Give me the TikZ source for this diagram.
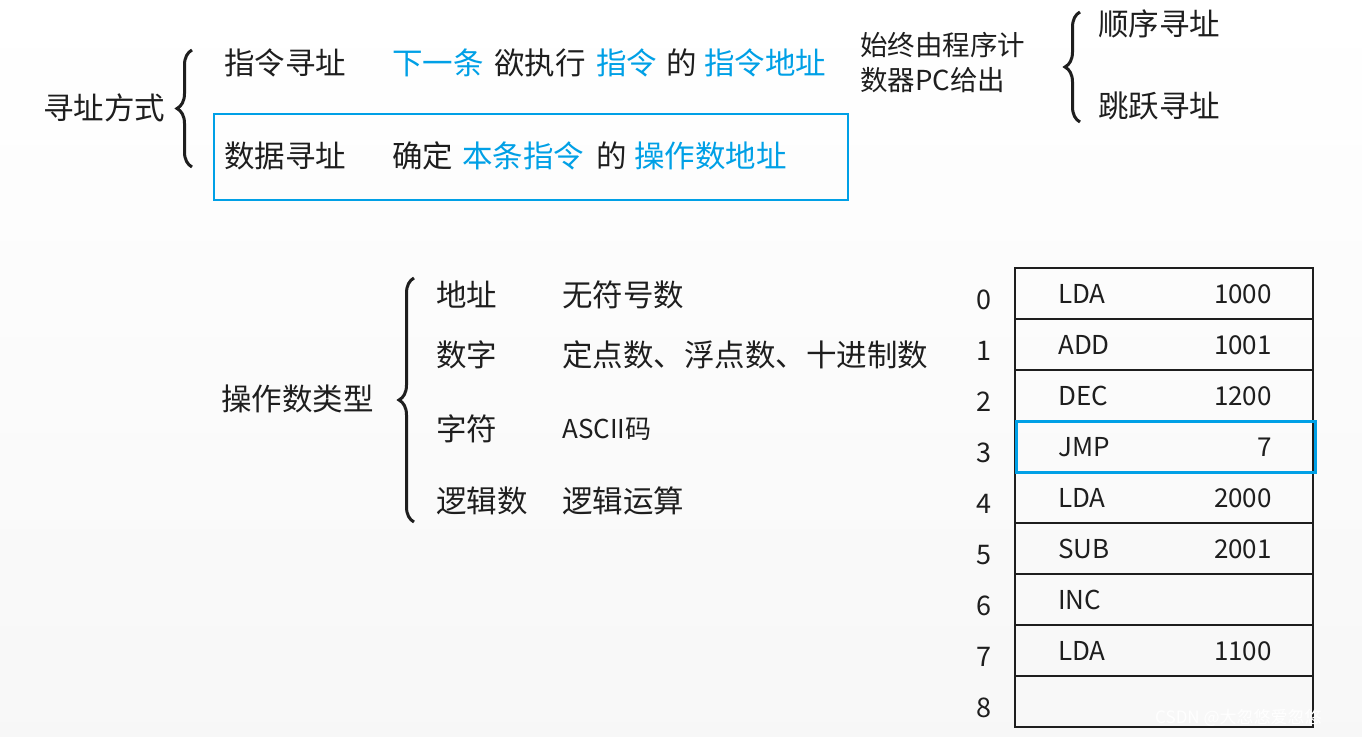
\documentclass[tikz,border=0pt]{standalone}
\usepackage{fontspec}
\setmainfont{Noto Sans CJK SC}
\usetikzlibrary{decorations.pathreplacing}
\definecolor{hl}{RGB}{0,160,230}
\definecolor{tx}{RGB}{30,30,30}
\tikzset{
 t/.style={anchor=west,inner sep=0pt,text=tx,font=\fontsize{30.5}{34}\selectfont},
 b/.style={t,text=hl},
 br/.style={draw=tx,line width=3pt,decorate,decoration={brace,amplitude=15pt,mirror}},
 cell/.style={draw=tx,line width=1.3pt},
 num/.style={t,anchor=center,font=\fontsize{27}{30}\selectfont},
 lt/.style={t,font=\fontsize{26}{30}\selectfont},
}
\begin{document}
\begin{tikzpicture}[x=1pt,y=-1pt]
\fill[top color=white,bottom color=gray!6] (0,0) rectangle (1362,736);
\useasboundingbox (0,0) rectangle (1362,736);
% top
\node[t] (am) at (43,108) {寻址方式};
\draw[br] (192,50) -- (192,167);
\node[t] (zl) at (224,63) {指令寻址};
\node[b] (a1) at (392,63) {下一条};
\node[t] (a2) at (494,63) {欲执行};
\node[b] (a3) at (596,63) {指令};
\node[t] (a4) at (666,63) {的};
\node[b] (a5) at (704,63) {指令地址};
\draw[draw=hl,line width=1.3pt] (214,114) rectangle (848,200);
\node[t] (sj) at (224,156) {数据寻址};
\node[t] (b1) at (392,156) {确定};
\node[b] (b2) at (462,156) {本条指令};
\node[t] (b3) at (596,156) {的};
\node[b] (b4) at (634,156) {操作数地址};
\node[t,align=left,font=\fontsize{27.5}{35}\selectfont] (pc) at (860,63) {始终由程序计\\数器PC给出};
\draw[br] (1080,12) -- (1080,122);
\node[t] (sx) at (1098,24) {顺序寻址};
\node[t] (ty) at (1098,106) {跳跃寻址};
% operand types
\node[t] (ct) at (221,399) {操作数类型};
\draw[br] (414,278) -- (414,522);
\node[t] (d1) at (436,295) {地址};   \node[t] (e1) at (562,295) {无符号数};
\node[t] (d2) at (436,355) {数字};   \node[t] (e2) at (562,355) {定点数、浮点数、十进制数};
\node[t] (d3) at (436,429) {字符};   \node[lt] (e3) at (562,429) {ASCII码};
\node[t] (d4) at (436,501) {逻辑数}; \node[t] (e4) at (562,501) {逻辑运算};
% memory table
\foreach \i/\op/\v in {0/LDA/1000,1/ADD/1001,2/DEC/1200,3/JMP/7,4/LDA/2000,5/SUB/2001,6/INC/,7/LDA/1100,8//}{
  \pgfmathsetmacro{\top}{268+51*\i}
  \draw[cell] (1015,\top) rectangle (1313,\top+51);
  \node[num] (n\i) at (984,\top+32) {\i};
  \node[lt] (o\i) at (1058,\top+26) {\op};
  \node[lt,anchor=east] (v\i) at (1272,\top+26) {\v};
}
\draw[draw=hl,line width=3pt] (1016,421) rectangle (1315,472);
\node[t,anchor=west,text=white,font=\fontsize{17}{20}\selectfont] (wm) at (1155,718) {CSDN @大忽悠爱忽悠};
\end{tikzpicture}
\end{document}
